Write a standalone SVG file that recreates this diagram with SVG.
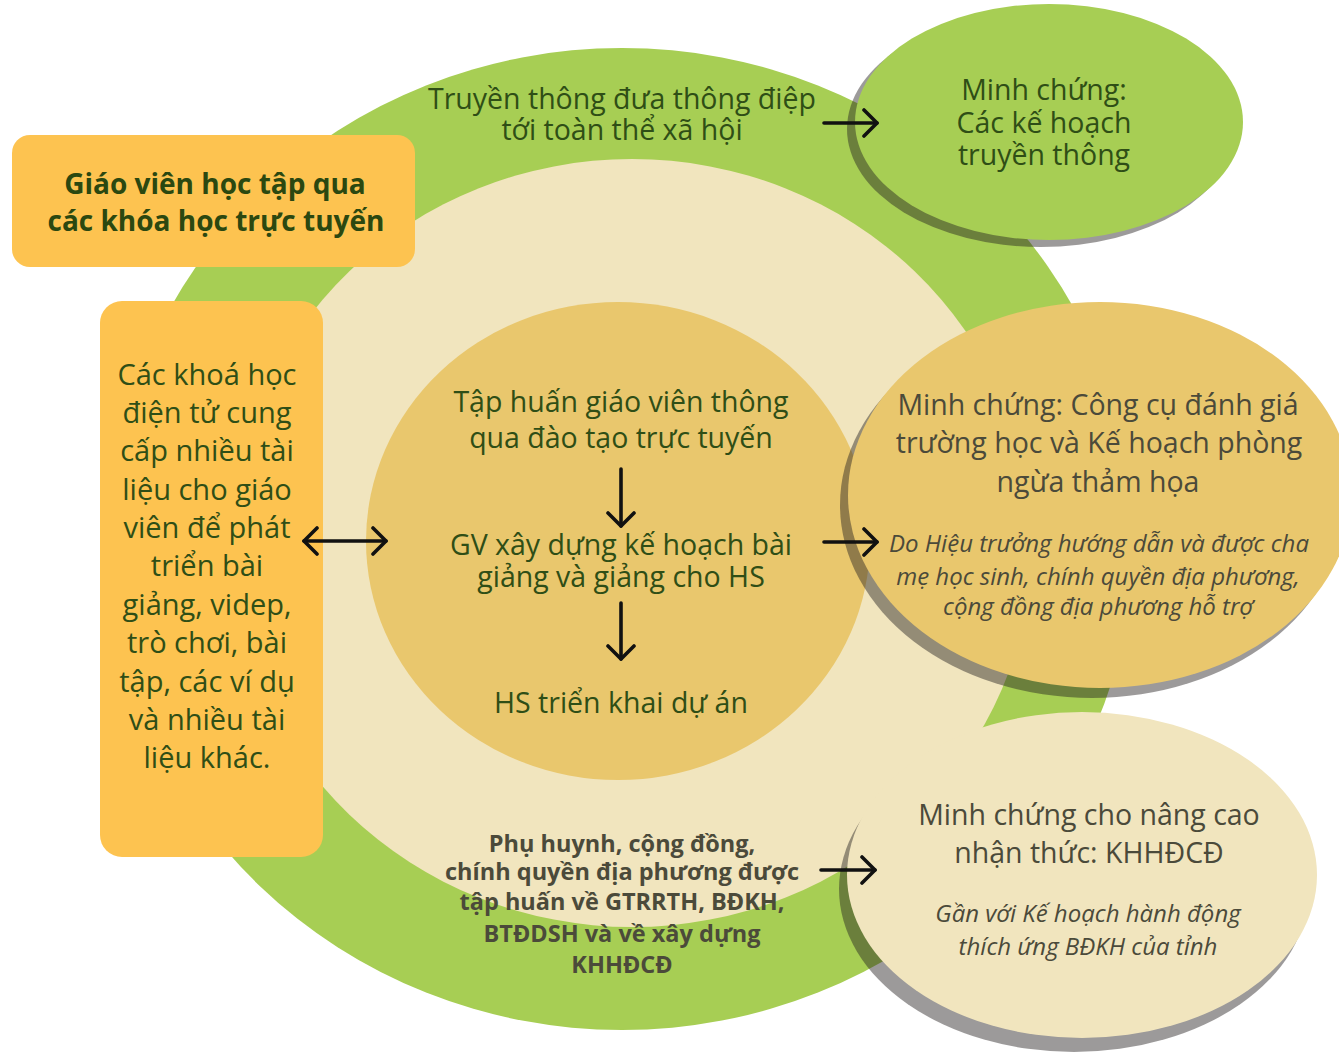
<svg xmlns="http://www.w3.org/2000/svg" width="1339" height="1056" viewBox="0 0 1339 1056">
<defs>
<marker id="ah" viewBox="0 0 20 30" refX="16" refY="15" markerWidth="20" markerHeight="30" markerUnits="userSpaceOnUse" orient="auto-start-reverse">
<path d="M3,2 L16,15 L3,28" fill="none" stroke="#111" stroke-width="3.6" stroke-linecap="round" stroke-linejoin="round"/>
</marker>
<style>
text{font-family:"Open Sans","Noto Sans","Liberation Sans",sans-serif;text-anchor:middle}
.g{fill:#2f4e16}
.gb{fill:#2b4810}
.d{fill:#4b4a3a}
.b{font-weight:bold}
.i{font-style:italic}
.shadow{fill:#231f20;opacity:0.45}
.conn{stroke:#111;stroke-width:3.6;fill:none;stroke-linecap:round;marker-end:url(#ah)}
</style>
</defs>
<rect width="1339" height="1056" fill="#ffffff"/>
<g id="rings">
<ellipse cx="622" cy="539" rx="512" ry="491" fill="#a7ce54"/>
<ellipse cx="632" cy="543" rx="400" ry="384" fill="#f1e5be"/>
</g>
<g id="n-outer-text">
<text class="g" x="622" y="109" font-size="28.5">Truyền thông đưa thông điệp</text>
<text class="g" x="622" y="140" font-size="28.5">tới toàn thể xã hội</text>
</g>
<g id="n-bottom-text">
<text class="d b" x="622" y="852" font-size="23.5">Phụ huynh, cộng đồng,</text>
<text class="d b" x="622" y="880" font-size="23.5" textLength="354" lengthAdjust="spacingAndGlyphs">chính quyền địa phương được</text>
<text class="d b" x="622" y="910" font-size="23.5">tập huấn về GTRRTH, BĐKH,</text>
<text class="d b" x="622" y="942" font-size="23.5">BTĐDSH và về xây dựng</text>
<text class="d b" x="622" y="973" font-size="23.5">KHHĐCĐ</text>
</g>
<g id="n-center">
<ellipse cx="618" cy="541" rx="252" ry="239" fill="#e9c76d"/>
<text class="g" x="621" y="412" font-size="28.5">Tập huấn giáo viên thông</text>
<text class="g" x="621" y="448" font-size="28.5">qua đào tạo trực tuyến</text>
<text class="g" x="621" y="555" font-size="28.5">GV xây dựng kế hoạch bài</text>
<text class="g" x="621" y="587" font-size="28.5">giảng và giảng cho HS</text>
<text class="g" x="621" y="713" font-size="28.5">HS triển khai dự án</text>
</g>
<g id="n-top-box">
<rect x="12" y="135" width="403" height="132" rx="18" fill="#fdc350"/>
<text class="gb b" x="215" y="194" font-size="28">Giáo viên học tập qua</text>
<text class="gb b" x="216" y="231" font-size="28">các khóa học trực tuyến</text>
</g>
<g id="n-left-box">
<rect x="100" y="301" width="223" height="556" rx="22" fill="#fdc350"/>
<g class="g" font-size="29">
<text x="207" y="385">Các khoá học</text>
<text x="207" y="423">điện tử cung</text>
<text x="207" y="461">cấp nhiều tài</text>
<text x="207" y="500">liệu cho giáo</text>
<text x="207" y="538">viên để phát</text>
<text x="207" y="576">triển bài</text>
<text x="207" y="615">giảng, videp,</text>
<text x="207" y="653">trò chơi, bài</text>
<text x="207" y="692">tập, các ví dụ</text>
<text x="207" y="730">và nhiều tài</text>
<text x="207" y="768">liệu khác.</text>
</g>
</g>
<g id="n-evidence-media">
<ellipse class="shadow" cx="1041" cy="129" rx="194" ry="118"/>
<ellipse cx="1049" cy="122" rx="194" ry="118" fill="#a7ce54"/>
<text class="g" x="1044" y="100" font-size="28.5">Minh chứng:</text>
<text class="g" x="1044" y="133" font-size="28.5">Các kế hoạch</text>
<text class="g" x="1044" y="165" font-size="28.5">truyền thông</text>
</g>
<g id="n-evidence-tools">
<ellipse class="shadow" cx="1092" cy="505" rx="252" ry="193"/>
<ellipse cx="1100" cy="495" rx="252" ry="193" fill="#e9c76d"/>
<text class="d" x="1098" y="415" font-size="28.5">Minh chứng: Công cụ đánh giá</text>
<text class="d" x="1099" y="453" font-size="28.5">trường học và Kế hoạch phòng</text>
<text class="d" x="1098" y="492" font-size="28.5">ngừa thảm họa</text>
<text class="d i" x="1099" y="552" font-size="24">Do Hiệu trưởng hướng dẫn và được cha</text>
<text class="d i" x="1098" y="585" font-size="24">mẹ học sinh, chính quyền địa phương,</text>
<text class="d i" x="1098" y="615" font-size="24">cộng đồng địa phương hỗ trợ</text>
</g>
<g id="n-evidence-awareness">
<ellipse class="shadow" cx="1074" cy="889" rx="235" ry="163"/>
<ellipse cx="1082" cy="875" rx="235" ry="163" fill="#f1e5be"/>
<text class="d" x="1089" y="825" font-size="28.5">Minh chứng cho nâng cao</text>
<text class="d" x="1089" y="863" font-size="28.5">nhận thức: KHHĐCĐ</text>
<text class="d i" x="1088" y="922" font-size="24">Gần với Kế hoạch hành động</text>
<text class="d i" x="1088" y="955" font-size="24">thích ứng BĐKH của tỉnh</text>
</g>
<g id="connectors">
<path class="conn" d="M824,123 H877"/>
<path class="conn" d="M824,542 H877"/>
<path class="conn" d="M821,870 H875"/>
<path class="conn" d="M621,469 V526"/>
<path class="conn" d="M621,603 V659"/>
<path class="conn" d="M304,541 H386" style="marker-start:url(#ah)"/>
</g>
</svg>
